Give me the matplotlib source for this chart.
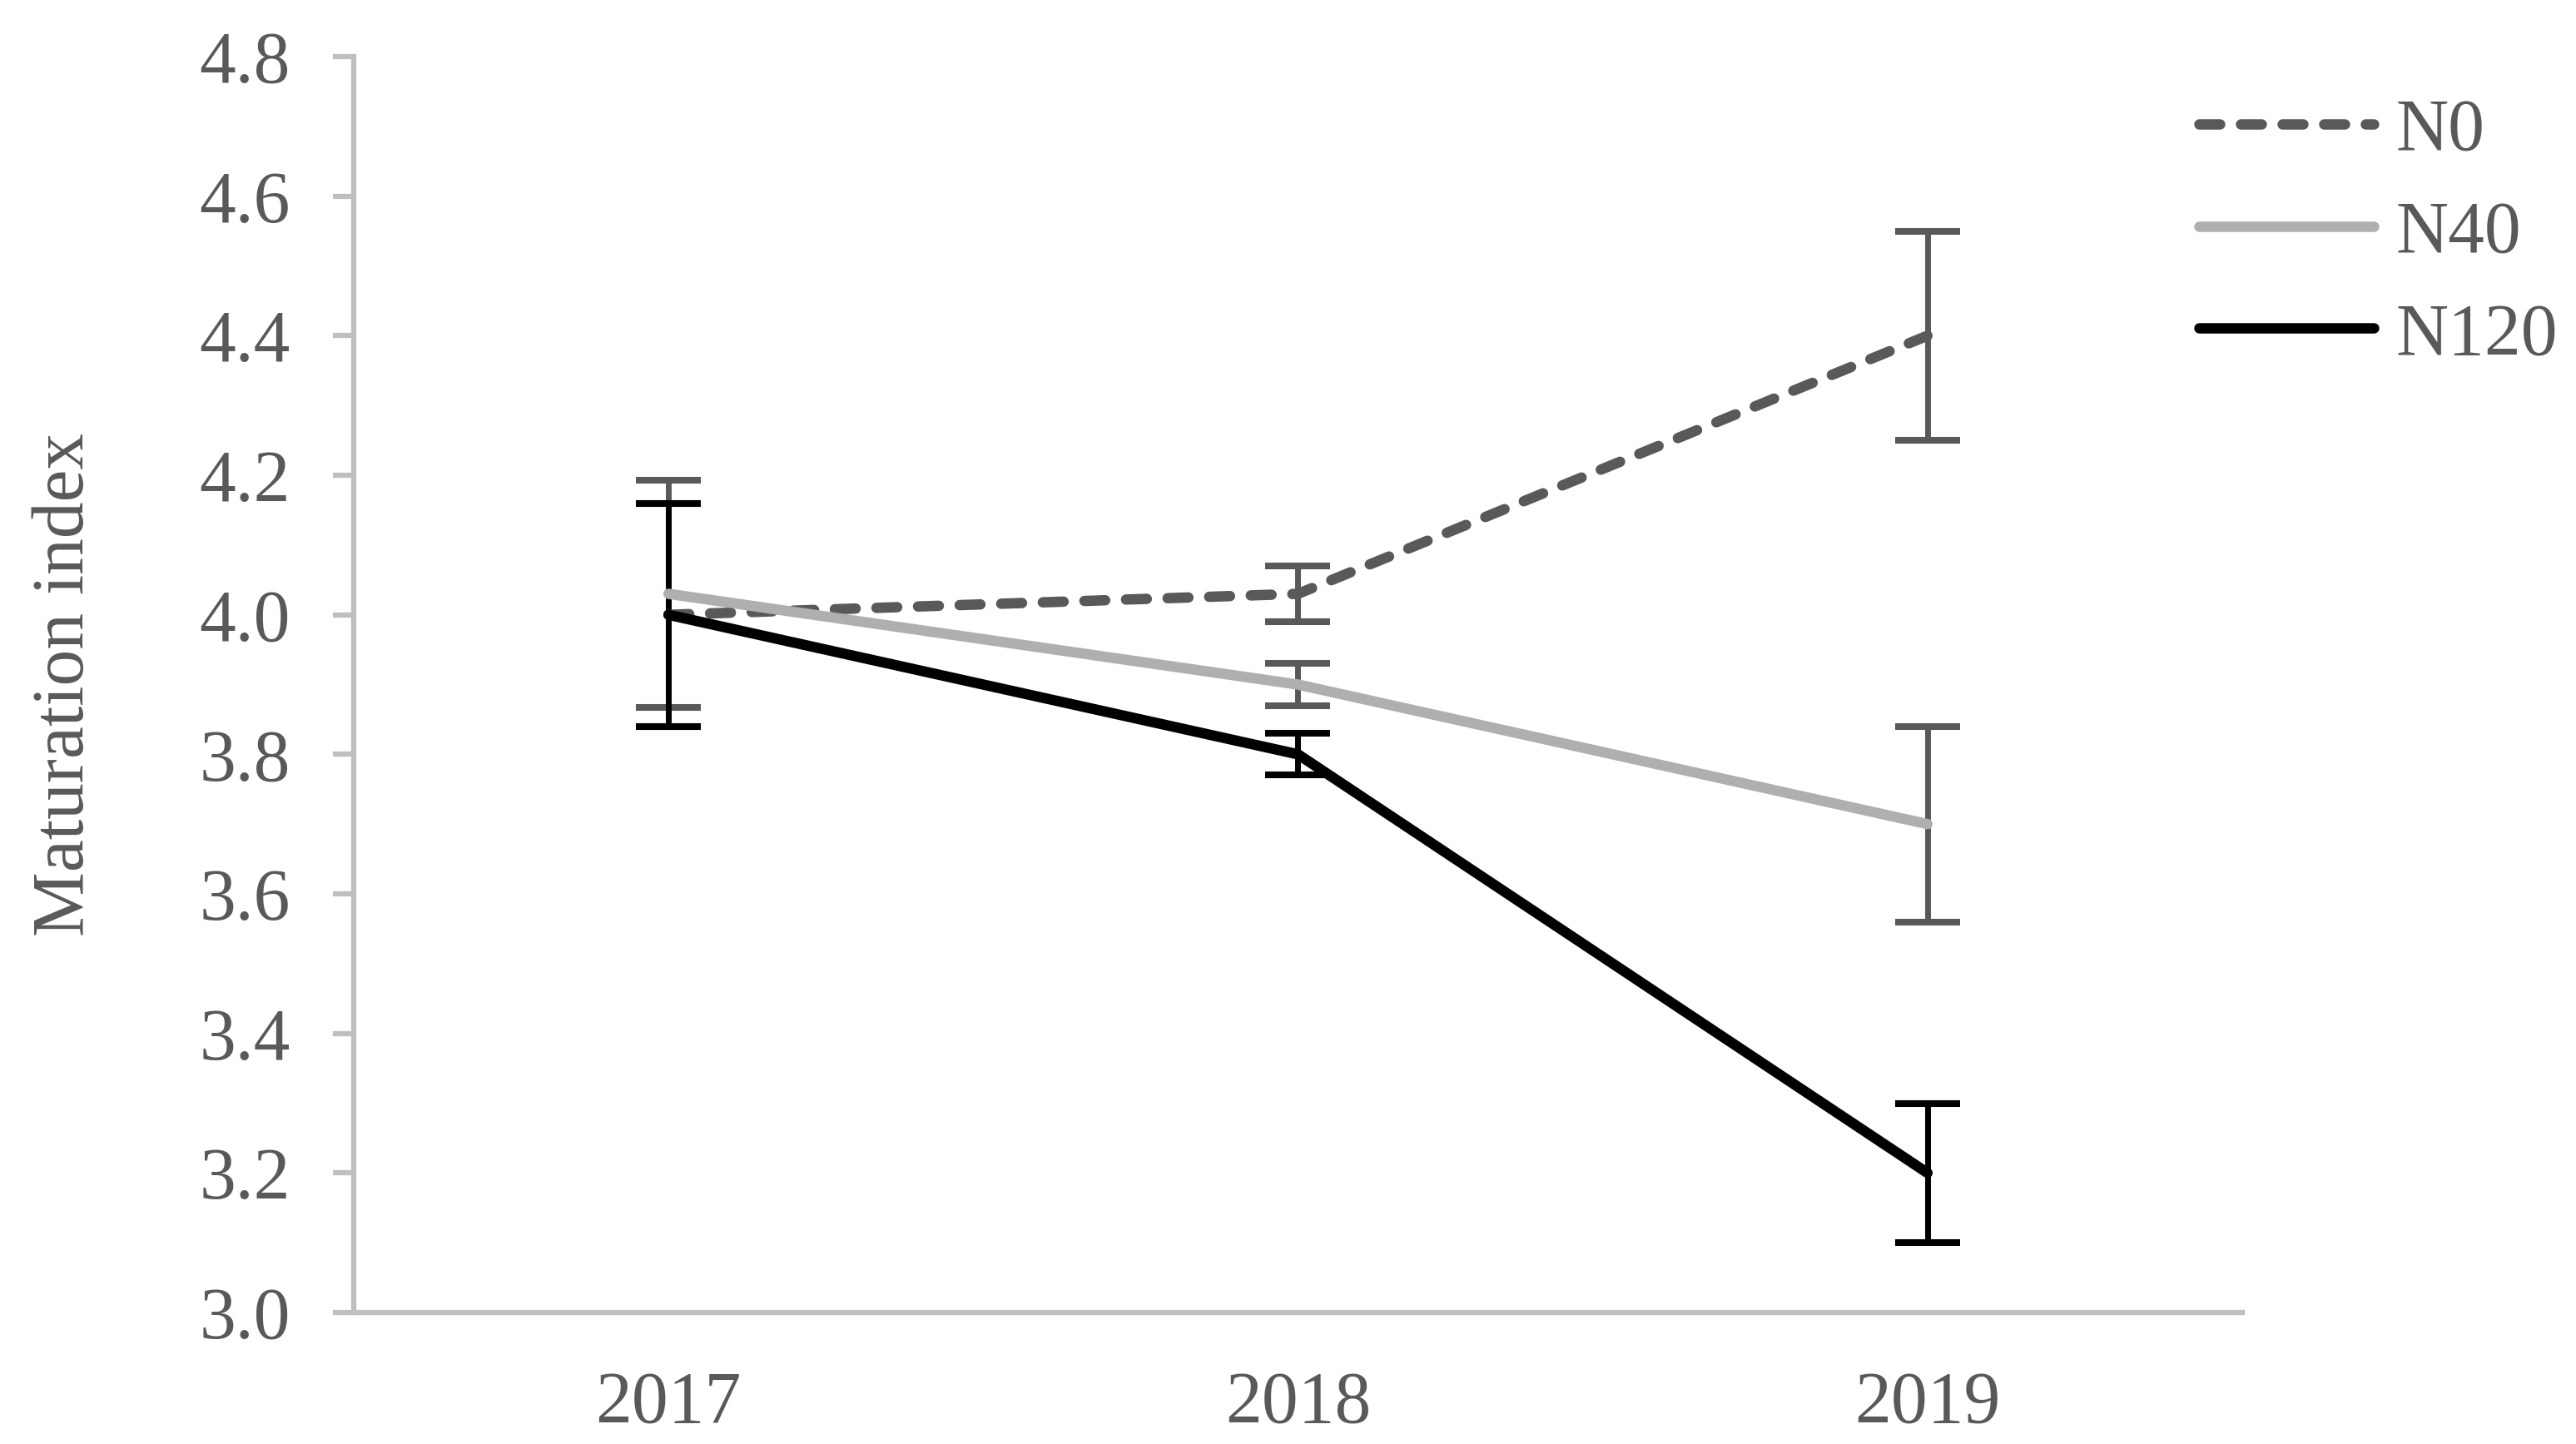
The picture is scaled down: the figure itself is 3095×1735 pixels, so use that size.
import matplotlib
matplotlib.use("Agg")
import matplotlib.pyplot as plt
import numpy as np

years = ["2017", "2018", "2019"]
series_names = ["N0", "N40", "N120"]
n0_vals = [4.00, 4.03, 4.40]
n0_err = [0.16, 0.04, 0.15]
n40_vals = [4.03, 3.90, 3.70]
n40_err = [0.163, 0.03, 0.14]
n120_vals = [4.00, 3.80, 3.20]
n120_err = [0.16, 0.03, 0.10]
yticks = [3.0, 3.2, 3.4, 3.6, 3.8, 4.0, 4.2, 4.4, 4.6, 4.8]

plt.rcParams['font.family'] = ['Liberation Serif', 'DejaVu Serif']
text_color = '#595959'
axis_color = '#bfbfbf'

fig = plt.figure(figsize=(30.95, 17.35), dpi=100)
ax = fig.add_axes([425/3095, 1 - 1577/1735, (2694-425)/3095, (1577-68)/1735])

x = np.arange(len(years))
series = [
    (n0_vals, n0_err, '#595959', '#595959', 'dashed'),
    (n40_vals, n40_err, '#afafaf', '#595959', 'solid'),
    (n120_vals, n120_err, '#000000', '#000000', 'solid'),
]

for i, (vals, err, lc, ec, ls) in enumerate(series):
    ax.errorbar(x, vals, yerr=err, fmt='none', ecolor=ec, elinewidth=5,
                capsize=28, capthick=5.8, zorder=2 + i * 0.1)

for i, ((vals, err, lc, ec, ls), name) in enumerate(zip(series, series_names)):
    if ls == 'dashed':
        ax.plot(x, vals, color=lc, lw=9, linestyle=(0, (2, 2)),
                dash_capstyle='round', solid_capstyle='round', label=name, zorder=4)
    else:
        ax.plot(x, vals, color=lc, lw=9, solid_capstyle='round', label=name, zorder=4)

ax.set_xlim(-0.5, 2.5)
ax.set_ylim(3.0, 4.8)
ax.set_xticks(x)
ax.set_xticklabels(years)
ax.set_yticks(yticks)
ax.set_yticklabels([f"{v:.1f}" for v in yticks])

for s in ['top', 'right']:
    ax.spines[s].set_visible(False)
for s in ['left', 'bottom']:
    ax.spines[s].set_color(axis_color)
    ax.spines[s].set_linewidth(4.5)
ax.spines['left'].set_zorder(1)
ax.tick_params(axis='y', length=18, width=4.5, color=axis_color, labelsize=63,
               labelcolor=text_color, pad=37)
ax.tick_params(axis='x', length=0, labelsize=63, labelcolor=text_color, pad=50)

ax.set_ylabel("Maturation index", fontsize=63, color=text_color, va='center')
ax.yaxis.set_label_coords(-0.1525, 0.5)

leg = ax.legend(loc='upper left', bbox_to_anchor=(2642/3095, 1 - 118/1735),
                bbox_transform=fig.transFigure, frameon=False, fontsize=63,
                handlelength=2.4, handletextpad=0.3, labelspacing=0.475,
                borderpad=0, borderaxespad=0)
for t in leg.get_texts():
    t.set_color(text_color)

fig.savefig("out.png", dpi=100)
